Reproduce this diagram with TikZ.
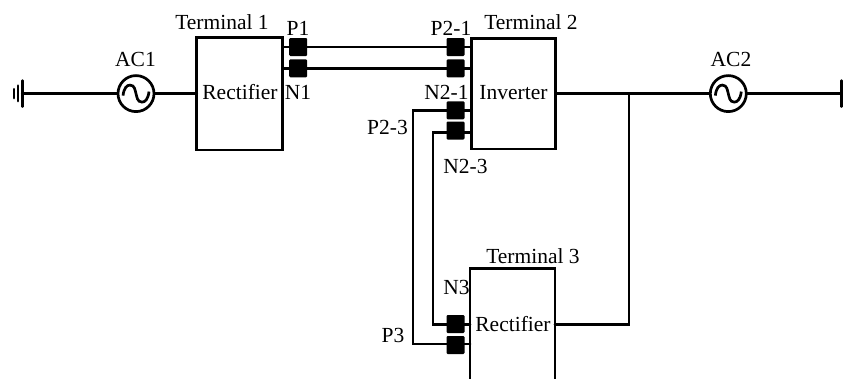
\documentclass[tikz,border=0pt]{standalone}
\usepackage{fontspec}
\setmainfont{Liberation Serif}
\usetikzlibrary{backgrounds}
\tikzset{
  wire/.style={line width=2.7pt,line cap=round},
  termbox/.style={draw,line width=2.7pt,rectangle,inner sep=0pt,outer sep=0pt},
  port/.style={rectangle,rounded corners=1.2pt,fill=black,minimum width=18pt,minimum height=18pt,inner sep=0pt,outer sep=0pt},
  lab/.style={anchor=base,inner sep=0pt,outer sep=0pt,font=\fontsize{21.5}{21.5}\selectfont},
  source/.style={draw,circle,line width=2.7pt,minimum size=36pt,inner sep=0pt,outer sep=0pt,fill=white,
    path picture={\draw[line width=2.7pt,shift={(path picture bounding box.center)}]
      (-13,2) .. controls (-12,-6) and (-9,-8.5) .. (-6,-8.5) .. controls (-1,-8.5) and (-1,-3) .. (0,0)
      .. controls (1,3) and (1,8.5) .. (6,8.5) .. controls (9,8.5) and (12,6) .. (13,-2);}},
}
\begin{document}
\begin{tikzpicture}[x=1pt,y=-1pt]
\useasboundingbox (0,0) rectangle (843,378);
% terminals
\node[termbox,minimum width=86pt,minimum height=112.7pt] (t1) at (239.7,93.6) {};
\node[termbox,minimum width=84.4pt,minimum height=110.7pt] (t2) at (513.5,93.6) {};
\node[termbox,minimum width=85pt,minimum height=131.3pt] (t3) at (512.5,334.3) {};
% free points
\coordinate (g1) at (22.3,93.6);
\coordinate (g2) at (18,93.6);
\coordinate (g3) at (14,93.6);
\coordinate (endbar) at (841.3,93.6);
\coordinate (tee) at (629,93.6);
\coordinate (p23a) at (413,110.3);
\coordinate (p23b) at (413,344);
\coordinate (n23a) at (433,132.7);
\coordinate (n23b) at (433,324.7);
% sources
\node[source] (ac1) at (136,93.6) {};
\node[source] (ac2) at (728.3,93.6) {};
% ports
\node[port] (p1) at (298.2,47) {};
\node[port] (n1) at (298.2,68.3) {};
\node[port] (p21) at (455.5,47) {};
\node[port] (n21a) at (455.5,68.3) {};
\node[port] (n21) at (455.5,110.3) {};
\node[port] (n23) at (455.5,130.5) {};
\node[port] (n3) at (455.5,324) {};
\node[port] (p3) at (455.5,345) {};
% connectors
\begin{scope}[on background layer]
\draw[wire] (g1) -- (ac1);
\draw[wire] (ac1) -- (t1);
\draw[wire] (t1.east |- p1) -- (t2.west |- p1);
\draw[wire] (t1.east |- n1) -- (t2.west |- n1);
\draw[wire] (t2.west |- p23a) -- (p23a) -- (p23b) -- (t3.west |- p23b);
\draw[wire] (t2.west |- n23a) -- (n23a) -- (n23b) -- (t3.west |- n23b);
\draw[wire] (t2.east |- tee) -- (ac2);
\draw[wire] (ac2) -- (endbar);
\draw[wire] (t3.east |- n23b) -- (tee |- n23b) -- (tee);
\end{scope}
% ground and end bars
\draw[wire] ([yshift=-13pt]g1) -- ([yshift=13pt]g1);
\draw[wire] ([yshift=-7.5pt]g2) -- ([yshift=8pt]g2);
\draw[wire] ([yshift=-4.5pt]g3) -- ([yshift=4.5pt]g3);
\draw[wire] ([yshift=-13pt]endbar) -- ([yshift=13pt]endbar);
% labels
\node[lab] (lt1) at (222,29) {Terminal 1};
\node[lab] (lt2) at (531,29) {Terminal 2};
\node[lab] (lt3) at (533,263) {Terminal 3};
\node[lab] (lac1) at (135.5,66) {AC1};
\node[lab] (lac2) at (731,66) {AC2};
\node[lab] (lr1) at (240,99) {Rectifier};
\node[lab] (linv) at (513.5,99) {Inverter};
\node[lab] (lr3) at (513,331) {Rectifier};
\node[lab] (lp1) at (298,35) {P1};
\node[lab] (ln1) at (298,99) {N1};
\node[lab] (lp21) at (451,35) {P2-1};
\node[lab] (ln21) at (446.5,99) {N2-1};
\node[lab] (lp23) at (387.5,134) {P2-3};
\node[lab] (ln23) at (465.5,173) {N2-3};
\node[lab] (ln3) at (456.5,294) {N3};
\node[lab] (lp3) at (393,342) {P3};
\end{tikzpicture}
\end{document}
